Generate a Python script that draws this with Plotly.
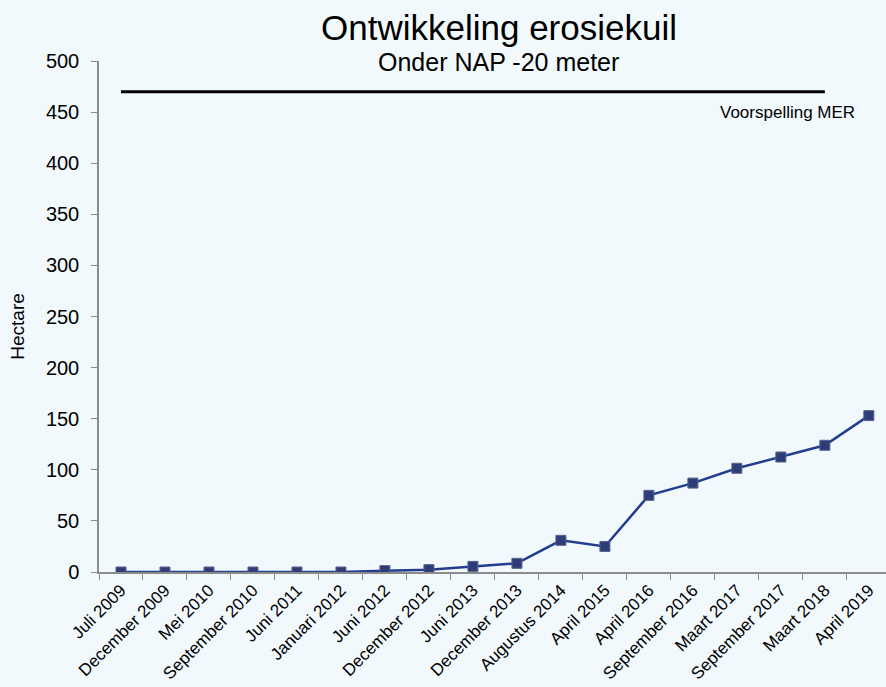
import plotly.graph_objects as go

categories = ["Juli 2009", "December 2009", "Mei 2010", "September 2010", "Juni 2011",
              "Januari 2012", "Juni 2012", "December 2012", "Juni 2013", "December 2013",
              "Augustus 2014", "April 2015", "April 2016", "September 2016", "Maart 2017",
              "September 2017", "Maart 2018", "April 2019"]
hectare = [0, 0, 0, 0, 0, 0, 1.3, 2.3, 5.5, 8.5, 31, 25, 75, 87, 101.5, 112.5, 124, 153]
mer_categories = ["Juli 2009", "Maart 2018"]
mer_values = [470, 470]
y_ticks = [0, 50, 100, 150, 200, 250, 300, 350, 400, 450, 500]

font = "Liberation Sans, Arial, sans-serif"
bg = "#F2F9FD"
axis_grey = "#8C8C8C"

fig = go.Figure()
fig.add_trace(go.Scatter(x=mer_categories, y=mer_values, mode="lines",
                         line=dict(color="black", width=3), showlegend=False,
                         hoverinfo="skip"))
fig.add_trace(go.Scatter(x=categories, y=hectare, mode="lines+markers",
                         line=dict(color="#223C8E", width=2.5),
                         marker=dict(symbol="square", size=10, color="#2E3C78",
                                     line=dict(color="#56638E", width=1)),
                         showlegend=False))

fig.add_annotation(x=15.15, y=450, xref="x", yref="y",
                   text="Voorspelling MER", showarrow=False,
                   font=dict(family=font, size=17, color="black"))
fig.add_annotation(x=0.508, y=1.0665, xref="paper", yref="paper", yanchor="middle",
                   text="Ontwikkeling erosiekuil", showarrow=False,
                   font=dict(family=font, size=35, color="black"))
fig.add_annotation(x=0.508, y=0.998, xref="paper", yref="paper", yanchor="middle",
                   text="Onder NAP -20 meter", showarrow=False,
                   font=dict(family=font, size=25, color="black"))
fig.add_annotation(x=0, y=0.48, xref="paper", yref="paper", xshift=-81,
                   xanchor="center", yanchor="middle", textangle=-90,
                   text="Hectare", showarrow=False,
                   font=dict(family=font, size=19, color="black"))

fig.update_layout(
    width=886, height=687,
    paper_bgcolor=bg, plot_bgcolor=bg,
    margin=dict(l=99, r=0, t=61, b=115, pad=0),
    font=dict(family=font, color="black"),
    xaxis=dict(type="category", categoryorder="array", categoryarray=categories,
               range=[-0.5, 17.39], tickson="boundaries", ticks="outside", ticklen=6,
               tickcolor=axis_grey, showline=True, linecolor=axis_grey, linewidth=1.5,
               showgrid=False, zeroline=False, tickangle=-45, automargin=False,
               tickfont=dict(family=font, size=17, color="black")),
    yaxis=dict(range=[0, 500], tickvals=y_ticks, ticks="outside", ticklen=6,
               tickcolor=axis_grey, showline=True, linecolor=axis_grey, linewidth=1.5,
               showgrid=False, zeroline=False, automargin=False, ticklabelstandoff=8,
               tickfont=dict(family=font, size=20, color="black")),
)

fig.write_html("out.html", config={"displayModeBar": False},
               post_script="document.body.style.margin='0';")
